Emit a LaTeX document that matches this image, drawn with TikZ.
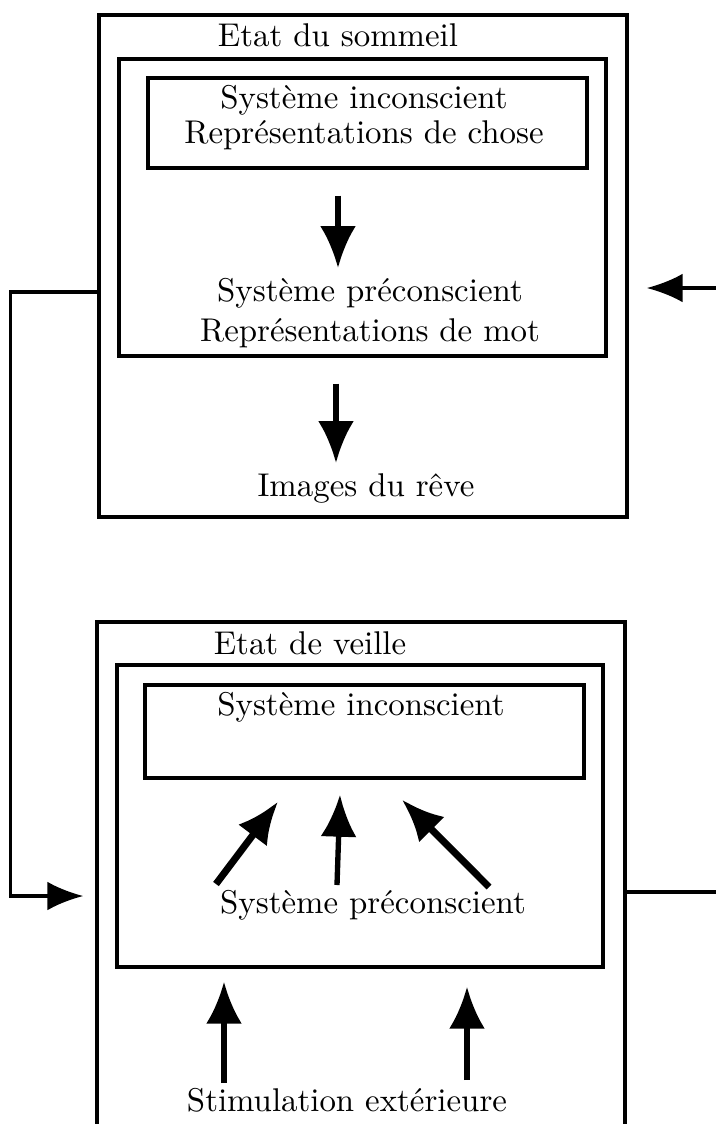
\documentclass[tikz,border=0pt]{standalone}
\usepackage{fontspec}
\usepackage{tikz}
\usetikzlibrary{arrows.meta,positioning}
\newfontfamily\boxfont{lmroman10-regular}[Extension=.otf]

\begin{document}
\begin{tikzpicture}[
        frame/.style={rectangle, draw, line width=2.4pt, inner sep=0pt},
        txt/.style={font=\boxfont\fontsize{23.4}{25}\selectfont, align=center, inner sep=0pt},
        line/.style={draw, line width=2.4pt},
        bigarrow/.style={draw, line width=3.8pt, -{Latex[length=1.05cm,width=0.9cm]}},
        sidearrow/.style={draw, line width=2.4pt, -{Latex[length=0.9cm,width=0.72cm]}}
    ]
    \useasboundingbox (0,0) rectangle (17.9,-28.1);
    \node [frame, minimum width=13.2cm, minimum height=12.55cm] (sommeil) at (9.075,-6.65) {};
    \node [frame, minimum width=12.175cm, minimum height=7.425cm] (sommeil_mid) at (9.0625,-5.1875) {};
    \node [frame, minimum width=10.975cm, minimum height=2.25cm] (sommeil_inc) at (9.1875,-3.075) {};
    \node [txt] (sommeil_title) at (8.45,-0.875) {Etat du sommeil};
    \node [txt] (inc_chose) at (9.1,-2.94) {Système inconscient\\Représentations de chose};
    \node [txt, font=\boxfont\fontsize{23.4}{28}\selectfont] (pre_mot) at (9.25,-7.825) {Système préconscient\\Représentations de mot};
    \node [txt] (reve) at (9.15,-12.2) {Images du rêve};
    \node [frame, minimum width=13.2cm, minimum height=12.825cm] (veille) at (9.025,-21.9625) {};
    \node [frame, minimum width=12.15cm, minimum height=7.55cm] (veille_mid) at (9.0,-20.4) {};
    \node [frame, minimum width=10.975cm, minimum height=2.325cm] (veille_inc) at (9.1125,-18.2875) {};
    \node [txt] (veille_title) at (7.75,-16.075) {Etat de veille};
    \node [txt] (inc_veille) at (9.025,-17.675) {Système inconscient};
    \node [txt] (pre_veille) at (9.325,-22.625) {Système préconscient};
    \node [txt] (stim) at (8.675,-27.5) {Stimulation extérieure};
    \coordinate (r_in) at (17.95,-7.2);
    \coordinate (r_out) at (17.95,-22.3);
    \path [bigarrow] ([xshift=-0.7375cm, yshift=-0.65cm]sommeil_inc.south) -- ([xshift=-0.8cm, yshift=1.125cm]pre_mot.center);
    \path [bigarrow] ([xshift=-0.6625cm, yshift=-0.65cm]sommeil_mid.south) -- ([xshift=-0.75cm, yshift=0.625cm]reve.center);
    \path [bigarrow, line width=5pt] ([xshift=-3.925cm, yshift=0.525cm]pre_veille.center) -- ([xshift=-2.1625cm, yshift=-0.55cm]veille_inc.south);
    \path [bigarrow] ([xshift=-0.9cm, yshift=0.5cm]pre_veille.center) -- ([xshift=-0.6125cm, yshift=-0.375cm]veille_inc.south);
    \path [bigarrow, line width=5pt] ([xshift=2.9cm, yshift=0.45cm]pre_veille.center) -- ([xshift=0.9375cm, yshift=-0.5cm]veille_inc.south);
    \path [bigarrow] ([xshift=-3.075cm, yshift=0.425cm]stim.center) -- ([xshift=-3.4cm, yshift=-0.325cm]veille_mid.south);
    \path [bigarrow] ([xshift=3cm, yshift=0.5cm]stim.center) -- ([xshift=2.675cm, yshift=-0.45cm]veille_mid.south);
    \path [sidearrow] ([yshift=-0.65cm]sommeil.west) -- ++(-2.1625cm,0) |- ([xshift=-0.3cm, yshift=-0.4375cm]veille.west);
    \path [sidearrow, shorten >=0.45cm] (r_in) -- (r_in -| sommeil.east);
    \path [line] (veille.east |- r_out) -- (r_out);
\end{tikzpicture}
\end{document}
